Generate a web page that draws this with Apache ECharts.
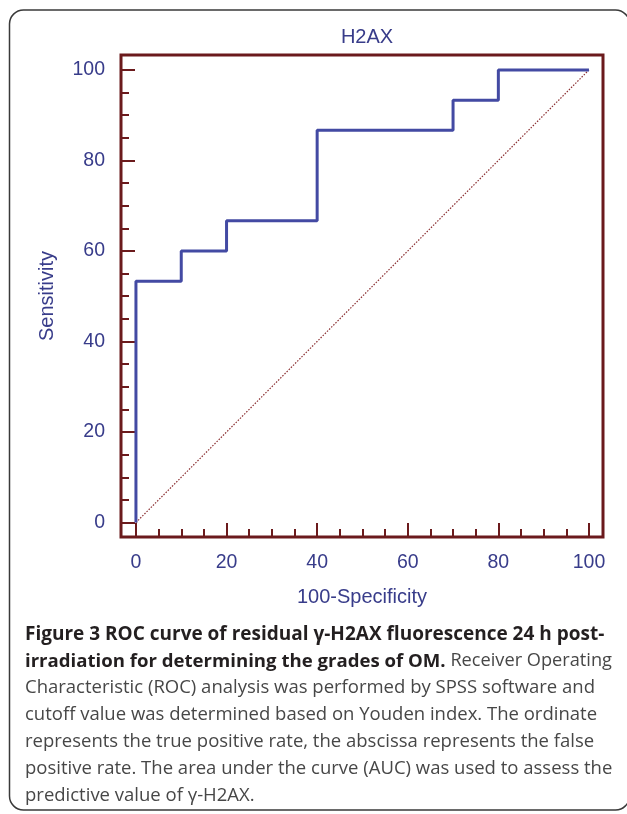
<!DOCTYPE html>
<html>
<head>
<meta charset="utf-8">
<script src="https://cdn.jsdelivr.net/npm/echarts@6/dist/echarts.min.js"></script>
<style>
html,body{margin:0;padding:0;background:#fff;}
#c{width:627px;height:814px;}
</style>
</head>
<body>
<div id="c"></div>
<script>
// ROC curve corner points (100-Specificity, Sensitivity)
const fpr = [0, 0, 10, 10, 20, 20, 40, 40, 70, 70, 80, 80, 100];
const tpr = [0, 53.3, 53.3, 60, 60, 66.7, 66.7, 86.7, 86.7, 93.3, 93.3, 100, 100];
// reference diagonal
const refX = [0, 100];
const refY = [0, 100];
// tick labels
const majorTicks = [0, 20, 40, 60, 80, 100];
const minorTicks = [5, 10, 15, 25, 30, 35, 45, 50, 55, 65, 70, 75, 85, 90, 95];

const chartTitle = 'H2AX';
const xName = '100-Specificity';
const yName = 'Sensitivity';
const captionBold1 = 'Figure 3 ROC curve of residual γ-H2AX fluorescence 24 h post-';
const captionBold2 = 'irradiation for determining the grades of OM.';
const captionRest2 = ' Receiver Operating';
const captionLines = [
  'Characteristic (ROC) analysis was performed by SPSS software and',
  'cutoff value was determined based on Youden index. The ordinate',
  'represents the true positive rate, the abscissa represents the false',
  'positive rate. The area under the curve (AUC) was used to assess the',
  'predictive value of γ-H2AX.'
];

const frameColor = '#6b1a1c';
const labelColor = '#383c8a';
const lineColor = '#434aa3';
const fontFam = '"Liberation Sans", Arial, Helvetica, sans-serif';
const capFont = '"Open Sans", "Noto Sans", sans-serif';
const boldColor = '#231f20';
const regColor = '#474747';

const chart = echarts.init(document.getElementById('c'), null, {renderer: 'canvas'});

const XMIN = -3.3, XMAX = 103.1, YMIN = -3.2, YMAX = 103.3;

function mkX(ticks, len, showLabel, name) {
  return {
    type: 'value', min: XMIN, max: XMAX, position: 'bottom',
    name: name || '', nameLocation: 'middle', nameGap: 50,
    nameTextStyle: {color: labelColor, fontSize: 20, fontFamily: fontFam},
    axisLine: {show: false, onZero: false},
    splitLine: {show: false},
    axisTick: {show: true, inside: true, length: len, customValues: ticks,
      lineStyle: {color: frameColor, width: 2}},
    axisLabel: {show: showLabel, customValues: ticks, margin: 16,
      color: labelColor, fontSize: 19.5, fontFamily: fontFam}
  };
}
function mkY(ticks, len, showLabel, name) {
  return {
    type: 'value', min: YMIN, max: YMAX, position: 'left',
    name: name || '', nameLocation: 'middle', nameGap: 64,
    nameTextStyle: {color: labelColor, fontSize: 20, fontFamily: fontFam},
    axisLine: {show: false, onZero: false},
    splitLine: {show: false},
    axisTick: {show: true, inside: true, length: len, customValues: ticks,
      lineStyle: {color: frameColor, width: 2}},
    axisLabel: {show: showLabel, customValues: ticks, margin: 16,
      color: labelColor, fontSize: 19.5, fontFamily: fontFam}
  };
}

const capGraphics = [];
const capTop = 638, capStep = 26.8, capLeft = 25;
const boldFont = 'bold 19px ' + capFont;
const boldFont2 = 'bold 18.6px ' + capFont;
const regFont = '18.5px ' + capFont;
capGraphics.push({
  type: 'text', left: capLeft, top: capTop - 13,
  style: {text: captionBold1, font: boldFont, fill: boldColor}
});
capGraphics.push({
  type: 'text', left: capLeft, top: capTop + capStep - 13,
  style: {
    text: '{b|' + captionBold2 + '}{r|' + captionRest2 + '}',
    rich: {
      b: {font: boldFont2, fill: boldColor, color: boldColor},
      r: {font: '18.2px ' + capFont, fill: regColor, color: regColor}
    }
  }
});
captionLines.forEach((t, i) => {
  capGraphics.push({
    type: 'text', left: capLeft, top: capTop + capStep * (i + 2) - 13,
    style: {text: t, font: regFont, fill: regColor}
  });
});

chart.setOption({
  animation: false,
  backgroundColor: '#fff',
  title: {text: chartTitle, left: 362, top: 22, textAlign: 'center',
    textStyle: {color: labelColor, fontSize: 20, fontWeight: 'normal', fontFamily: fontFam}},
  grid: {left: 121, right: 24, top: 55, bottom: 277, show: true,
    borderColor: frameColor, borderWidth: 3, backgroundColor: 'transparent'},
  xAxis: [mkX(majorTicks, 14, true, xName), mkX(minorTicks, 8, false)],
  yAxis: [mkY(majorTicks, 14, true, yName), mkY(minorTicks, 8, false)],
  series: [
    {type: 'line', data: refX.map((x, i) => [x, refY[i]]), symbol: 'none',
      lineStyle: {color: '#8a2e30', width: 1.2, type: [1.5, 1.5]}, z: 2},
    {type: 'line', data: fpr.map((x, i) => [x, tpr[i]]), symbol: 'none',
      lineStyle: {color: lineColor, width: 3}, z: 3}
  ],
  graphic: [
    {type: 'rect', shape: {x: 9.5, y: 10, width: 620, height: 800, r: 14},
      style: {fill: 'none', stroke: '#3a3a3a', lineWidth: 1.5}, silent: true}
  ].concat(capGraphics)
});
</script>
</body>
</html>
